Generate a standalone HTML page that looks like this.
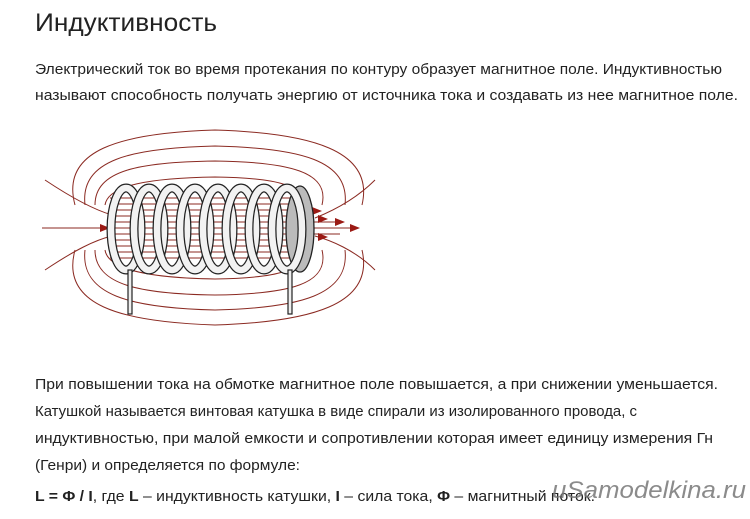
<!DOCTYPE html>
<html><head><meta charset="utf-8"><style>
html,body{margin:0;padding:0;background:#fff;width:750px;height:519px;overflow:hidden}
svg{display:block}
text{font-family:"Liberation Sans",Arial,sans-serif;fill:#222}
</style></head><body>
<svg width="750" height="519" viewBox="0 0 750 519">
<text x="35" y="31" font-size="25" textLength="182" lengthAdjust="spacingAndGlyphs" fill="#111">Индуктивность</text>
<text x="35" y="74" font-size="15" textLength="687" lengthAdjust="spacingAndGlyphs">Электрический ток во время протекания по контуру образует магнитное поле. Индуктивностью</text>
<text x="35" y="100" font-size="15" textLength="703" lengthAdjust="spacingAndGlyphs">называют способность получать энергию от источника тока и создавать из нее магнитное поле.</text>

<g fill="none" stroke="#8b2a22" stroke-width="1">
  <path d="M75,205 C60,150 120,133 215,130 C310,133 375,150 362,205"/>
  <path d="M85,205 C80,160 130,148 215,146 C300,148 350,160 345,205"/>
  <path d="M95,205 C95,170 140,162 215,161 C290,162 330,172 322,205"/>
  <path d="M105,205 C108,185 150,178 215,177 C280,178 305,186 300,205"/>
  <path d="M75,250 C60,305 120,322 215,325 C310,322 375,305 362,250"/>
  <path d="M85,250 C80,295 130,308 215,310 C300,308 350,295 345,250"/>
  <path d="M95,250 C95,285 140,294 215,295 C290,294 330,284 322,250"/>
  <path d="M105,250 C108,270 150,278 215,279 C280,278 305,270 300,250"/>
  <path d="M45,180 C75,200 95,210 112,215"/>
  <path d="M45,270 C75,250 95,240 112,236"/>
  <path d="M42,228 L110,228"/>
  <path d="M375,180 C355,200 330,212 315,218"/>
  <path d="M375,270 C355,250 330,240 315,236"/>
  <path d="M110,198 H300 M110,204 H300 M110,210 H300 M110,216 H300 M110,222 H340 M110,228 H355 M110,234 H340 M110,240 H300 M110,246 H300 M110,252 H300 M110,258 H300"/>
</g>
<g fill="#9b1a14">
  <polygon points="100,224 110,228 100,232"/>
  <polygon points="312,207 322,211 312,215"/>
  <polygon points="318,215 328,219 318,223"/>
  <polygon points="335,218 345,222 335,226"/>
  <polygon points="350,224 360,228 350,232"/>
  <polygon points="318,233 328,237 318,241"/>
</g>
<ellipse cx="300" cy="229" rx="14" ry="43" fill="#bbb" stroke="#222" stroke-width="1.3"/>
<g fill="none">
  <ellipse cx="126" cy="229" rx="15" ry="41" stroke="#222" stroke-width="9"/>
  <ellipse cx="126" cy="229" rx="15" ry="41" stroke="#f2f2f2" stroke-width="6.5"/>
  <ellipse cx="149" cy="229" rx="15" ry="41" stroke="#222" stroke-width="9"/>
  <ellipse cx="149" cy="229" rx="15" ry="41" stroke="#f2f2f2" stroke-width="6.5"/>
  <ellipse cx="172" cy="229" rx="15" ry="41" stroke="#222" stroke-width="9"/>
  <ellipse cx="172" cy="229" rx="15" ry="41" stroke="#f2f2f2" stroke-width="6.5"/>
  <ellipse cx="195" cy="229" rx="15" ry="41" stroke="#222" stroke-width="9"/>
  <ellipse cx="195" cy="229" rx="15" ry="41" stroke="#f2f2f2" stroke-width="6.5"/>
  <ellipse cx="218" cy="229" rx="15" ry="41" stroke="#222" stroke-width="9"/>
  <ellipse cx="218" cy="229" rx="15" ry="41" stroke="#f2f2f2" stroke-width="6.5"/>
  <ellipse cx="241" cy="229" rx="15" ry="41" stroke="#222" stroke-width="9"/>
  <ellipse cx="241" cy="229" rx="15" ry="41" stroke="#f2f2f2" stroke-width="6.5"/>
  <ellipse cx="264" cy="229" rx="15" ry="41" stroke="#222" stroke-width="9"/>
  <ellipse cx="264" cy="229" rx="15" ry="41" stroke="#f2f2f2" stroke-width="6.5"/>
  <ellipse cx="287" cy="229" rx="15" ry="41" stroke="#222" stroke-width="9"/>
  <ellipse cx="287" cy="229" rx="15" ry="41" stroke="#f2f2f2" stroke-width="6.5"/>
</g>
<g stroke="#222" stroke-width="1.2" fill="#eee">
  <rect x="128" y="270" width="4" height="44"/>
  <rect x="288" y="270" width="4" height="44"/>
</g>

<text x="35" y="389" font-size="15" textLength="683" lengthAdjust="spacingAndGlyphs">При повышении тока на обмотке магнитное поле повышается, а при снижении уменьшается.</text>
<text x="35" y="416" font-size="15" textLength="602" lengthAdjust="spacingAndGlyphs">Катушкой называется винтовая катушка в виде спирали из изолированного провода, с</text>
<text x="35" y="443" font-size="15" textLength="678" lengthAdjust="spacingAndGlyphs">индуктивностью, при малой емкости и сопротивлении которая  имеет единицу измерения Гн</text>
<text x="35" y="470" font-size="15" textLength="265" lengthAdjust="spacingAndGlyphs">(Генри) и определяется по формуле:</text>
<text x="35" y="501" font-size="15" textLength="560" lengthAdjust="spacingAndGlyphs"><tspan font-weight="bold">L = Φ / I</tspan>, где <tspan font-weight="bold">L</tspan> – индуктивность катушки, <tspan font-weight="bold">I</tspan> – сила тока, <tspan font-weight="bold">Φ</tspan> – магнитный поток.</text>
<text x="552" y="498" font-size="24" textLength="194" lengthAdjust="spacingAndGlyphs" style="fill:#777;opacity:.85" font-style="italic">uSamodelkina.ru</text>
</svg>
</body></html>
